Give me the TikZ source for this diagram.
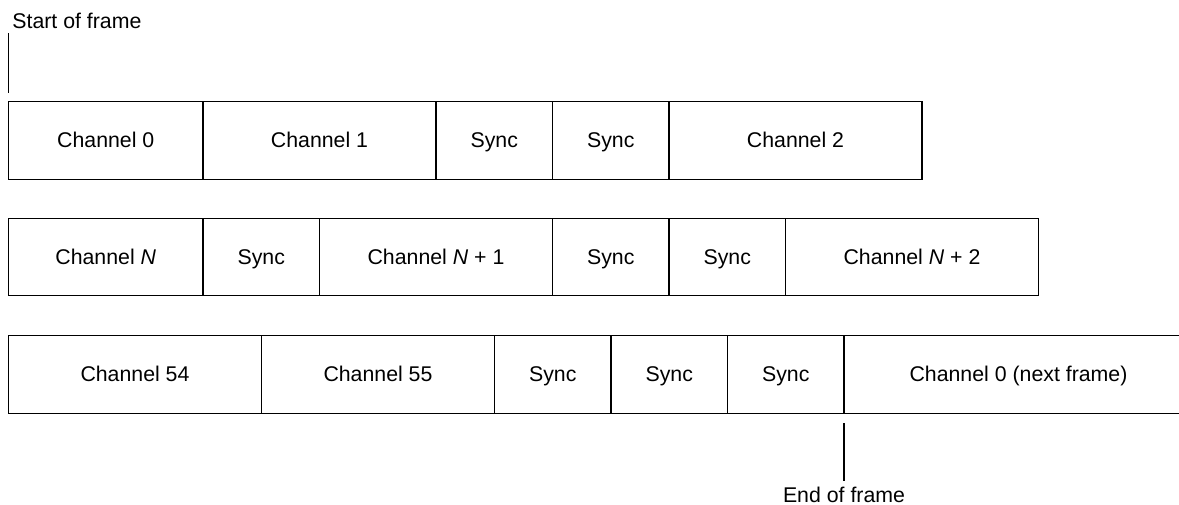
\documentclass[tikz,border=0pt]{standalone}
\usepackage{fontspec}
\setmainfont{Liberation Sans}
\usetikzlibrary{positioning}

\begin{document}
\begin{tikzpicture}[
  x=0.5pt, y=-0.5pt,
  font=\fontsize{10.65}{12.8}\selectfont,
  node distance=0pt,
  slot/.style={draw, line width=0.6pt, outer sep=0pt, inner sep=0pt,
    text height=0.716em, text depth=0pt,
    minimum height=38.75pt, anchor=west},
  sync/.style={slot, minimum width=58.25pt},
  chan/.style={slot, minimum width=116.5pt},
  wide/.style={slot, minimum width=126.5pt},
  lead/.style={slot, minimum width=97.25pt},
  tag/.style={inner sep=0pt},
  marker/.style={line width=0.6pt}
]
  \useasboundingbox (0,0) rectangle (1179,504);

  % first line of the frame
  \node[lead] (c0) at (8.5,140.5) {Channel 0};
  \node[chan, right=of c0] (c1) {Channel 1};
  \node[sync, right=of c1] (s1a) {Sync};
  \node[sync, right=of s1a] (s1b) {Sync};
  \node[wide, right=of s1b] (c2) {Channel 2};

  % middle of the frame
  \node[lead] (cN) at (8.5,257) {Channel \textit{N}};
  \node[sync, right=of cN] (s2a) {Sync};
  \node[chan, right=of s2a] (cN1) {Channel \textit{N} + 1};
  \node[sync, right=of cN1] (s2b) {Sync};
  \node[sync, right=of s2b] (s2c) {Sync};
  \node[wide, right=of s2c] (cN2) {Channel \textit{N} + 2};

  % end of the frame
  \node[wide] (c54) at (8.5,374.5) {Channel 54};
  \node[chan, right=of c54] (c55) {Channel 55};
  \node[sync, right=of c55] (s3a) {Sync};
  \node[sync, right=of s3a] (s3b) {Sync};
  \node[sync, right=of s3b] (s3c) {Sync};
  \node[slot, minimum width=174.5pt, right=of s3c] (cnext) {Channel 0 (next frame)};

  \node[tag, anchor=base west] (sof) at (12,28) {Start of frame};
  \draw[marker] (c0.north west) ++(0,-9) -- ++(0,-60);

  \node[tag, anchor=base] (eof) at (844,502) {End of frame};
  \draw[marker] (cnext.south west) ++(0,10) -- ++(0,58);
\end{tikzpicture}
\end{document}
